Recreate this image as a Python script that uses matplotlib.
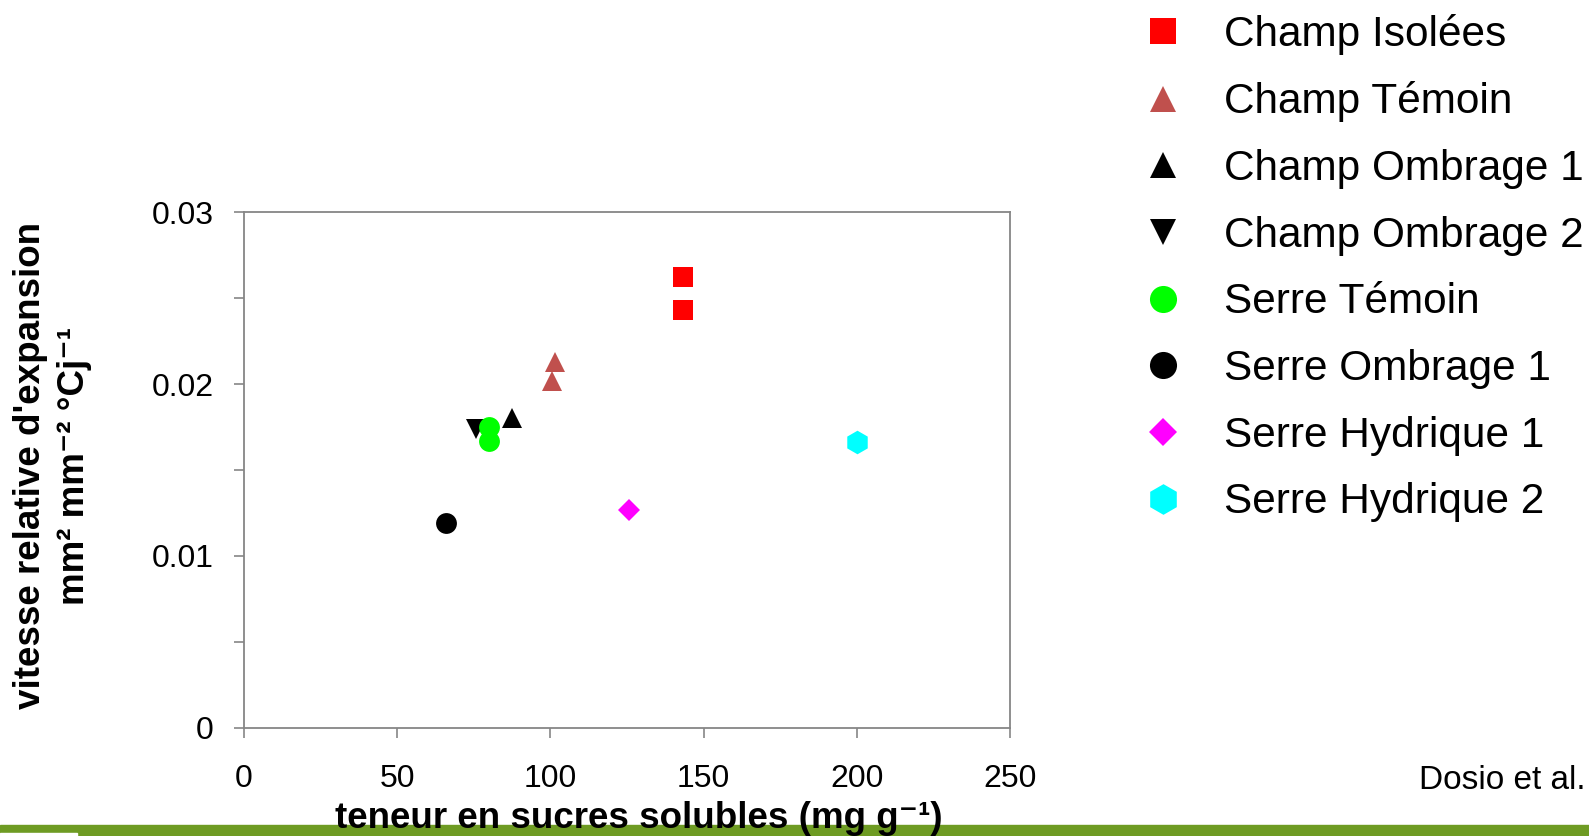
import matplotlib.pyplot as plt
from matplotlib.patches import Rectangle

plt.rcParams['font.family'] = ['Liberation Sans', 'DejaVu Sans']

# series: (label, x values, y values)
labels = ['Champ Isolées', 'Champ Témoin', 'Champ Ombrage 1', 'Champ Ombrage 2',
          'Serre Témoin', 'Serre Ombrage 1', 'Serre Hydrique 1', 'Serre Hydrique 2']
x_vals = [[143.2, 143.2], [101.5, 100.5], [87.6], [75.7],
          [80.0, 80.0], [65.8], [125.7], [200.0]]
y_vals = [[0.0262, 0.0243], [0.0213, 0.0202], [0.0180], [0.0174],
          [0.0175, 0.0167], [0.0119], [0.0127], [0.0166]]

colors = ['#FF0000', '#C0504D', '#000000', '#000000',
          '#00FF00', '#000000', '#FF00FF', '#00FFFF']
markers = ['s', '^', '^', 'v', 'o', 'o', 'D', 'h']
sizes = [14.5, 14.5, 14.5, 14.5, 15, 15, 11, 17]

fig = plt.figure(figsize=(15.89, 8.36), dpi=100)
ax = fig.add_axes([0.1536, 0.1292, 0.4820, 0.6172])

for lab, xs, ys, c, m, s in zip(labels, x_vals, y_vals, colors, markers, sizes):
    ax.plot(xs, ys, linestyle='none', marker=m, color=c, markersize=s,
            markeredgewidth=0, label=lab)

ax.set_xlim(0, 250)
ax.set_ylim(0, 0.03)
ax.set_xticks([0, 50, 100, 150, 200, 250])
ax.set_yticks([0, 0.01, 0.02, 0.03])
ax.set_yticklabels(['0', '0.01', '0.02', '0.03'])
ax.set_yticks([0.005, 0.015, 0.025], minor=True)
for sp in ax.spines.values():
    sp.set_color('#868686')
    sp.set_linewidth(1.3)
ax.tick_params(axis='x', direction='out', length=7, width=1.2, color='#868686',
               labelsize=23, pad=19)
ax.tick_params(axis='y', which='both', direction='out', length=7, width=1.2,
               color='#868686', labelsize=23, pad=15)

ax.set_xlabel('teneur en sucres solubles (mg g⁻¹)', fontsize=26.5,
              fontweight='bold')
ax.xaxis.set_label_coords(0.515, -0.142)

fig.text(0.019, 0.443, "vitesse relative d'expansion", rotation=90,
         fontsize=26.5, fontweight='bold', ha='center', va='center')
fig.text(0.047, 0.443, 'mm² mm⁻² °Cj⁻¹', rotation=90,
         fontsize=26.5, fontweight='bold', ha='center', va='center')

fig.legend(loc='upper left', bbox_to_anchor=(0.705, 1.009), frameon=False,
           fontsize=30.5, borderpad=0, handlelength=1.0, handletextpad=0.95,
           labelspacing=0.63, markerscale=1.3)

fig.text(0.998, 0.066, 'Dosio et al.', fontsize=24, ha='right', va='center')

# green band at the bottom
fig.add_artist(Rectangle((0, 0), 1, 0.0132, transform=fig.transFigure,
                         color='#6E9B23', zorder=-1))
fig.add_artist(Rectangle((0, 0), 0.0485, 0.003, transform=fig.transFigure,
                         color='white', zorder=0))

fig.savefig('out.png', dpi=100)
